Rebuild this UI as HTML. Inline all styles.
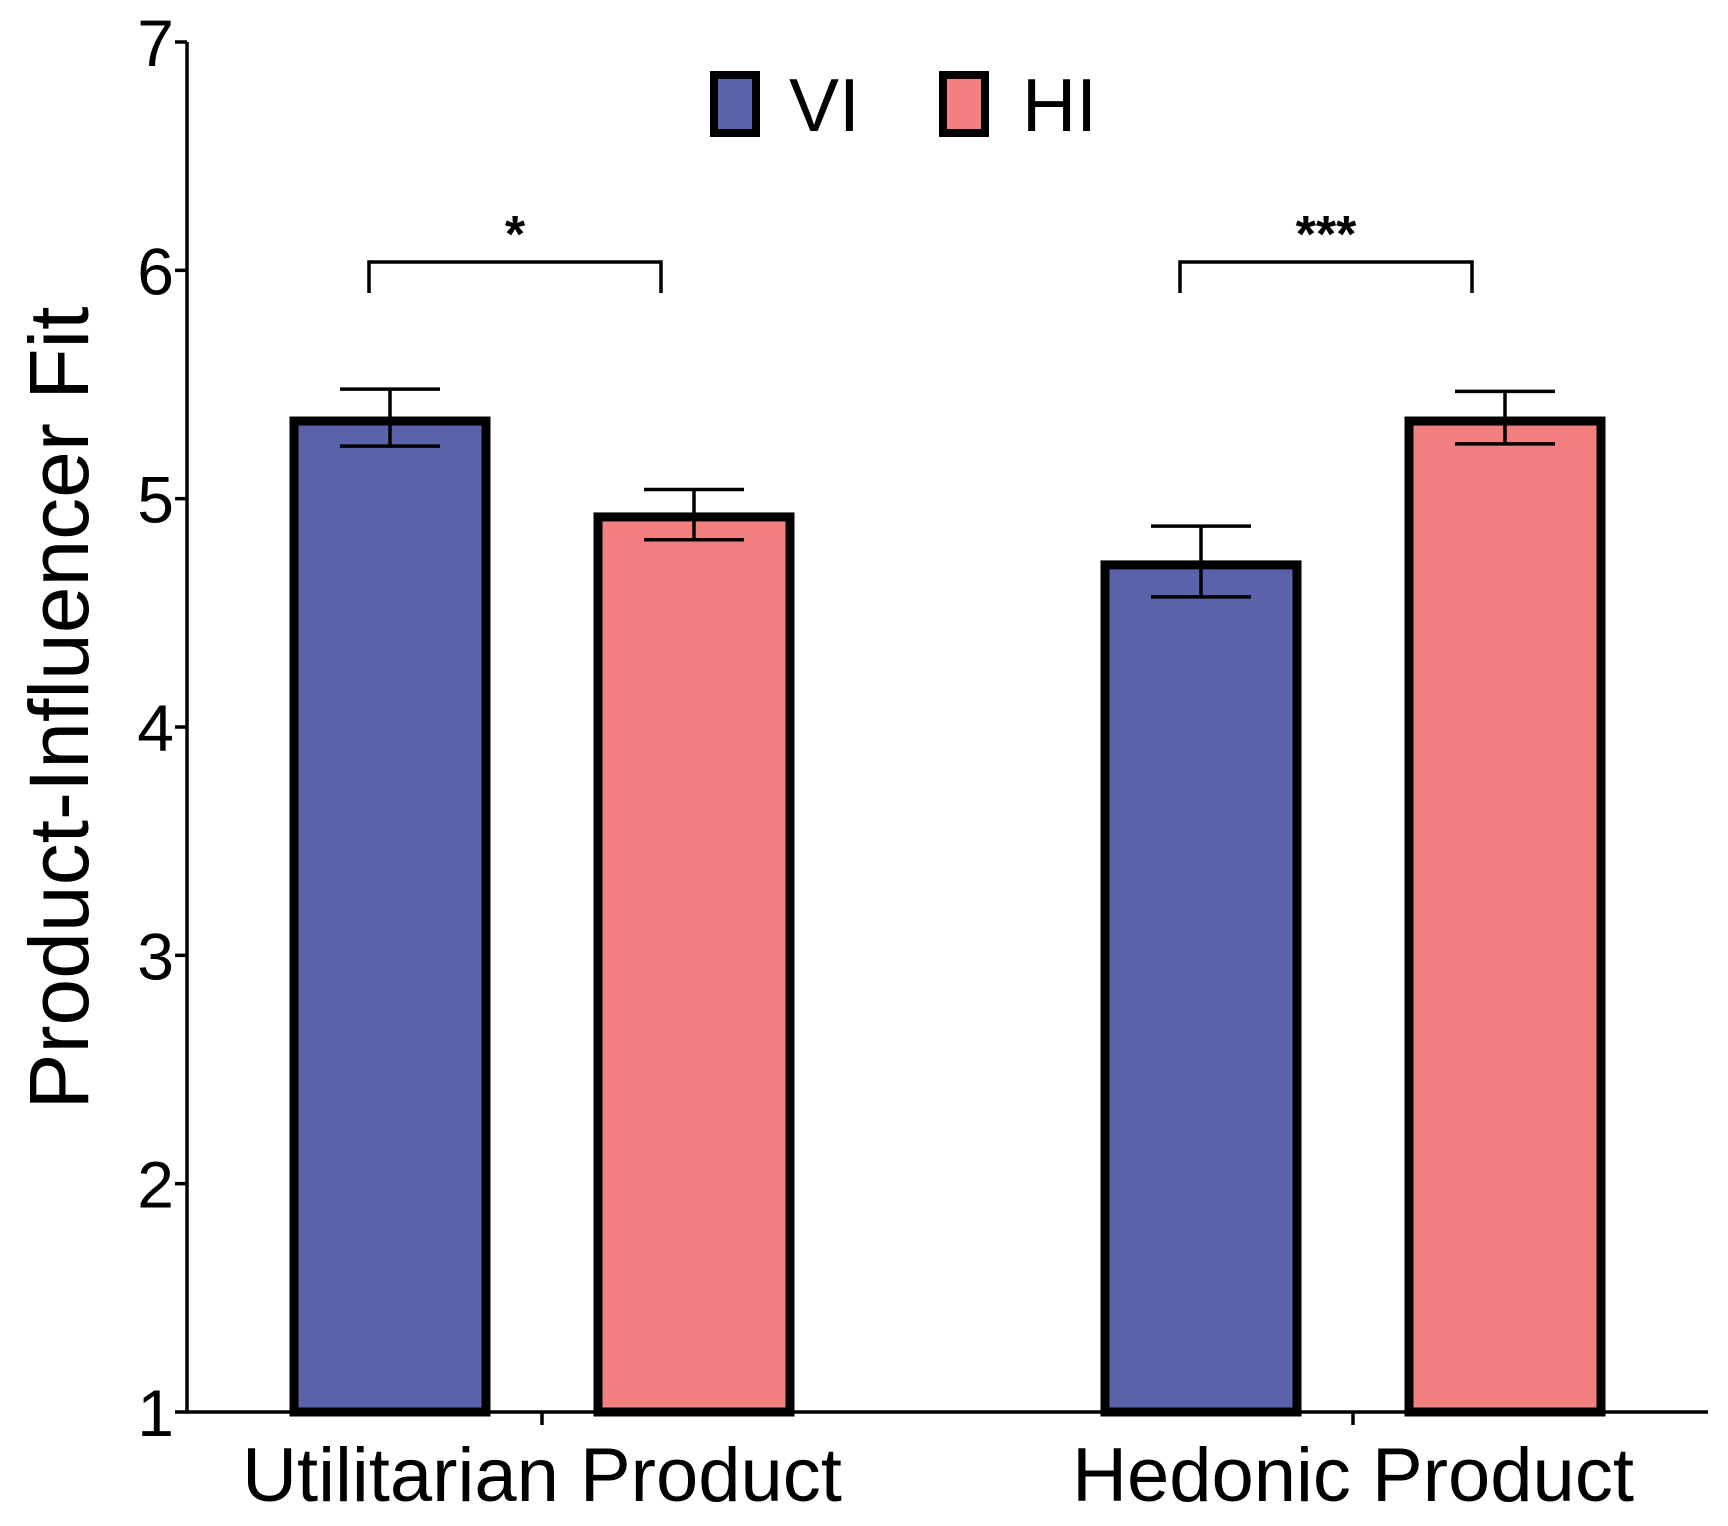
<!DOCTYPE html>
<html><head><meta charset="utf-8"><style>
html,body{margin:0;padding:0;background:#fff}
svg{display:block;font-family:"Liberation Sans",Arial,sans-serif}
</style></head><body>
<svg id="chart" width="1728" height="1526" viewBox="0 0 1728 1526" xmlns="http://www.w3.org/2000/svg">
<g id="axes"></g>
<g id="bars"></g>
<g id="legend">
  <rect x="714" y="75" width="42" height="58" fill="#5a62ab" stroke="#000" stroke-width="8"/>
  <text x="789" y="131" font-size="75">VI</text>
  <rect x="943" y="75" width="42" height="58" fill="#f28080" stroke="#000" stroke-width="8"/>
  <text x="1022" y="131" font-size="75">HI</text>
</g>
<text transform="translate(88,708) rotate(-90)" text-anchor="middle" font-size="84">Product-Influencer Fit</text>
</svg>
<script>
const categories = ["Utilitarian Product", "Hedonic Product"];
const seriesNames = ["VI", "HI"];
const viValues = [5.34, 4.71];
const hiValues = [4.92, 5.34];
const viErrLow = [5.23, 4.57];
const viErrHigh = [5.48, 4.88];
const hiErrLow = [4.82, 5.24];
const hiErrHigh = [5.04, 5.47];
const yTicks = [1, 2, 3, 4, 5, 6, 7];
const sigLabels = ["*", "***"];

const NS = "http://www.w3.org/2000/svg";
const y0 = 1412, y1 = 42, vMin = 1, vMax = 7;
const axisX = 187, axisRight = 1708;
function yScale(v){ return y0 - (v - vMin) / (vMax - vMin) * (y0 - y1); }
const groupCenters = [542, 1353];
const barW = 192;

function mk(tag, attrs, parent){ const e=document.createElementNS(NS,tag); for(const k in attrs) e.setAttribute(k, attrs[k]); parent.appendChild(e); return e; }

const axes = document.getElementById('axes');
let e = mk('line',{x1:axisX,y1:y1,x2:axisX,y2:y0+1,stroke:'#000','stroke-width':3.5},axes);


e = mk('line',{x1:axisX-1,y1:y0,x2:axisRight,y2:y0,stroke:'#000','stroke-width':3.5},axes);


yTicks.forEach(t=>{
  const y=yScale(t);
  let l=mk('line',{x1:axisX-12,y1:y,x2:axisX,y2:y,stroke:'#000','stroke-width':3.5},axes);
  
  
  let tx=mk('text',{x:174,y:y+24,'text-anchor':'end','font-size':66},axes);
  tx.textContent=t;
  
  
});
categories.forEach((c,i)=>{
  const x=groupCenters[i];
  let l=mk('line',{x1:x,y1:y0,x2:x,y2:y0+13,stroke:'#000','stroke-width':3.5},axes);
  
  
  let tx=mk('text',{x:x,y:1501,'text-anchor':'middle','font-size':76},axes);
  tx.textContent=c;
  
  
});

const bars=document.getElementById('bars');
const colors=['#5a62ab','#f28080'];
const vals=[viValues,hiValues], lo=[viErrLow,hiErrLow], hi=[viErrHigh,hiErrHigh];
const centers=[[0,0],[0,0]];
categories.forEach((c,ci)=>{
  seriesNames.forEach((s,si)=>{
    const left = groupCenters[ci] + (si===0 ? -248 : 56);
    const w=barW, v=vals[si][ci], top=yScale(v);
    let r=mk('rect',{x:left,y:top,width:w,height:y0-top,fill:colors[si],stroke:'#000','stroke-width':9},bars);
    
    
    const cx=left+w/2, yl=yScale(lo[si][ci]), yh=yScale(hi[si][ci]);
    centers[ci][si]=cx;
    const g=mk('g',{stroke:'#000','stroke-width':3.5},bars);
    
    
    mk('line',{x1:cx,y1:yl,x2:cx,y2:yh},g);
    mk('line',{x1:cx-50,y1:yh,x2:cx+50,y2:yh},g);
    mk('line',{x1:cx-50,y1:yl,x2:cx+50,y2:yl},g);
  });
});
categories.forEach((c,ci)=>{
  const xa=centers[ci][0]-21, xb=centers[ci][1]-33;
  const yb=262;
  const p=mk('path',{d:`M${xa},${yb+31} V${yb} H${xb} V${yb+31}`,fill:'none',stroke:'#000','stroke-width':3.5},bars);
  
  
  const t=mk('text',{x:(xa+xb)/2,y:yb-10,'text-anchor':'middle','font-size':52,'font-weight':'bold'},bars);
  t.textContent=sigLabels[ci];
  
  
});
</script>
</body></html>
